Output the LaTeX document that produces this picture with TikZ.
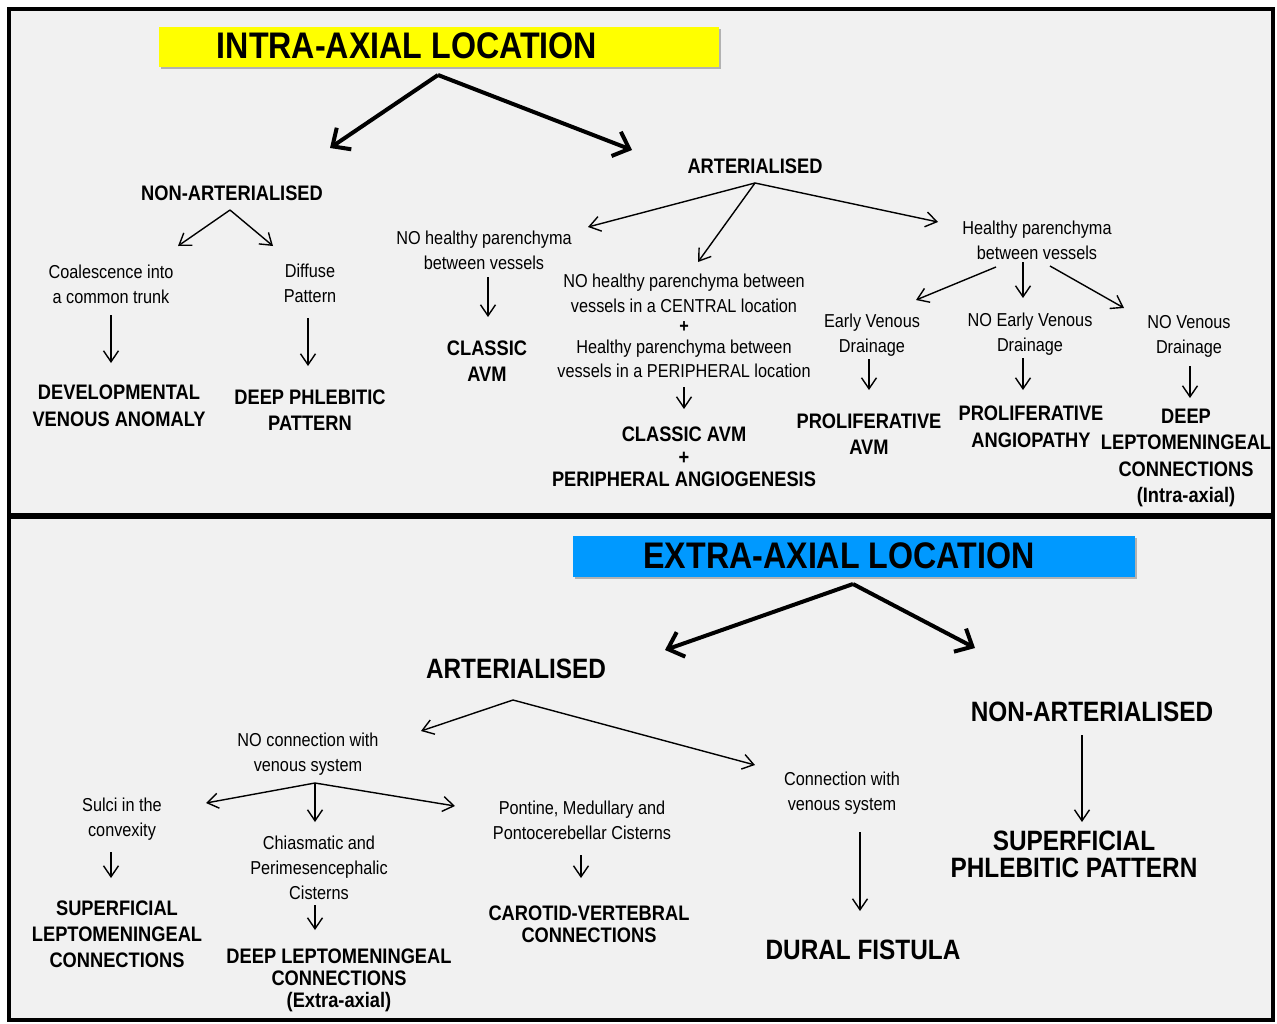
\documentclass[tikz,border=0pt]{standalone}
\usepackage{fontspec}
\setmainfont{Liberation Sans}[FakeStretch=0.87]
\usetikzlibrary{arrows.meta}
\definecolor{bggray}{RGB}{241,241,241}
\definecolor{ttlyellow}{RGB}{255,255,0}
\definecolor{ttlblue}{RGB}{0,153,255}
\begin{document}
\begin{tikzpicture}[x=1pt,y=-1pt,
  txt/.style={font=\fontsize{18.7}{25}\selectfont, align=center, inner sep=0pt},
  hd/.style={font=\bfseries\fontsize{21}{26.5}\selectfont, align=center, inner sep=0pt},
  hdL/.style={font=\bfseries\fontsize{28}{27}\selectfont, align=center, inner sep=0pt},
  ttl/.style={font=\bfseries\fontsize{37}{40}\selectfont, inner sep=0pt},
  thin/.style={line width=1.4pt, -{Straight Barb[length=11pt,width=15pt,line width=1.4pt]}},
  thick/.style={line width=4pt, -{Straight Barb[length=14pt,width=26pt,line width=4pt]}}]
\useasboundingbox (0,0) rectangle (1277,1023);
\fill[white] (0,0) rectangle (1277,1023);
\fill[bggray] (9,9) rectangle (1273,1020);
\draw[line width=4pt] (9,9) rectangle (1273,1020);
\draw[line width=6pt] (9,516) -- (1273,516);

% ---------- titles ----------
\fill[black!30] (161,29) rectangle (721,69);
\node[fill=ttlyellow, minimum width=560pt, minimum height=40pt, inner sep=0pt] (ybox) at (439,47) {};
\node[ttl] (ttl1) at (407,46) {INTRA-AXIAL LOCATION};
\fill[black!30] (575,538) rectangle (1137,579);
\node[fill=ttlblue, minimum width=562pt, minimum height=41pt, inner sep=0pt] (bbox) at (854,556.5) {};
\node[ttl] (ttl2) at (839,556) {EXTRA-AXIAL LOCATION};

% ---------- top panel nodes ----------
\node[hd] (na1) at (232,193) {NON-ARTERIALISED};
\node[hd] (ar1) at (755,166) {ARTERIALISED};
\node[txt] (coal) at (111,284) {Coalescence into\\a common trunk};
\node[txt] (diff) at (310,283) {Diffuse\\Pattern};
\node[hd] (dva) at (119,406) {DEVELOPMENTAL\\VENOUS ANOMALY};
\node[hd] (dpp) at (310,410) {DEEP PHLEBITIC\\PATTERN};
\node[txt] (nohp) at (484,250) {NO healthy parenchyma\\between vessels};
\node[hd] (cavm) at (487,361) {CLASSIC\\AVM};
\node[txt, font=\fontsize{18.7}{24.5}\selectfont] (mix) at (684,326)
  {NO healthy parenchyma between\\vessels in a CENTRAL location\\[-4pt]\textbf{+}\\[-4pt]Healthy parenchyma between\\vessels in a PERIPHERAL location};
\node[hd, font=\bfseries\fontsize{21}{22.5}\selectfont] (cpa) at (684,457) {CLASSIC AVM\\+\\PERIPHERAL ANGIOGENESIS};
\node[txt] (hp) at (1037,240) {Healthy parenchyma\\between vessels};
\node[txt] (ev) at (872,335) {Early Venous\\Drainage};
\node[txt] (nev) at (1030,334) {NO Early Venous\\Drainage};
\node[txt] (nv) at (1189,336) {NO Venous\\Drainage};
\node[hd] (pavm) at (869,434) {PROLIFERATIVE\\AVM};
\node[hd] (pang) at (1031,427) {PROLIFERATIVE\\ANGIOPATHY};
\node[hd] (dlc) at (1186,458) {DEEP\\LEPTOMENINGEAL\\CONNECTIONS\\(Intra-axial)};

% ---------- bottom panel nodes ----------
\node[hdL] (ar2) at (516,669) {ARTERIALISED};
\node[hdL] (na2) at (1092,712) {NON-ARTERIALISED};
\node[txt] (ncv) at (308,754) {NO connection with\\venous system};
\node[txt] (sulci) at (122,819) {Sulci in the\\convexity};
\node[txt] (chi) at (319,868) {Chiasmatic and\\Perimesencephalic\\Cisterns};
\node[txt] (pont) at (582,820) {Pontine, Medullary and\\Pontocerebellar Cisterns};
\node[txt] (cwv) at (842,793) {Connection with\\venous system};
\node[hd, font=\bfseries\fontsize{21}{26}\selectfont] (slc) at (117,934) {SUPERFICIAL\\LEPTOMENINGEAL\\CONNECTIONS};
\node[hd, font=\bfseries\fontsize{21}{22}\selectfont] (dlc2) at (339,980) {DEEP LEPTOMENINGEAL\\CONNECTIONS\\(Extra-axial)};
\node[hd, font=\bfseries\fontsize{21}{22}\selectfont] (cvc) at (589,924) {CAROTID-VERTEBRAL\\CONNECTIONS};
\node[hdL] (df) at (863,950) {DURAL FISTULA};
\node[hdL] (spp) at (1074,854) {SUPERFICIAL\\PHLEBITIC PATTERN};

% ---------- connector coordinates ----------
\coordinate (t1o) at (438,75);
\coordinate (t1l) at (330,148);
\coordinate (t1r) at (632,150);
\coordinate (t2o) at (853,584);
\coordinate (t2l) at (665,650);
\coordinate (t2r) at (975,648);

\coordinate (na1o) at (230,210);
\coordinate (na1l) at (178,246);
\coordinate (na1r) at (273,246);
\coordinate (coalo) at (111,315);
\coordinate (coale) at (111,363);
\coordinate (diffo) at (308,318);
\coordinate (diffe) at (308,366);

\coordinate (ar1o) at (755,183);
\coordinate (ar1l) at (588,227);
\coordinate (ar1m) at (698,262);
\coordinate (ar1r) at (938,222);
\coordinate (nohpo) at (488,277);
\coordinate (nohpe) at (488,317);
\coordinate (mixo) at (684,387);
\coordinate (mixe) at (684,409);

\coordinate (hpl) at (996,267);
\coordinate (hple) at (916,300);
\coordinate (hpm) at (1023,262);
\coordinate (hpme) at (1023,298);
\coordinate (hpr) at (1050,266);
\coordinate (hpre) at (1124,308);
\coordinate (evo) at (869,359);
\coordinate (eve) at (869,390);
\coordinate (nevo) at (1023,358);
\coordinate (neve) at (1023,390);
\coordinate (nvo) at (1190,366);
\coordinate (nve) at (1190,398);

\coordinate (ar2o) at (513,700);
\coordinate (ar2l) at (421,731);
\coordinate (ar2r) at (755,765);
\coordinate (ncvo) at (315,783);
\coordinate (ncvl) at (206,803);
\coordinate (ncvm) at (315,822);
\coordinate (ncvr) at (455,806);
\coordinate (sulo) at (111,852);
\coordinate (sule) at (111,878);
\coordinate (chio) at (315,905);
\coordinate (chie) at (315,930);
\coordinate (ponto) at (581,855);
\coordinate (ponte) at (581,878);
\coordinate (cwvo) at (860,832);
\coordinate (cwve) at (860,911);
\coordinate (na2o) at (1082,735);
\coordinate (na2e) at (1082,822);

% ---------- connectors ----------
\draw[thick] (t1o) -- (t1l);
\draw[thick] (t1o) -- (t1r);
\draw[thick] (t2o) -- (t2l);
\draw[thick] (t2o) -- (t2r);

\draw[thin] (na1o) -- (na1l);
\draw[thin] (na1o) -- (na1r);
\draw[thin] (coalo) -- (coale);
\draw[thin] (diffo) -- (diffe);
\draw[thin] (ar1o) -- (ar1l);
\draw[thin] (ar1o) -- (ar1m);
\draw[thin] (ar1o) -- (ar1r);
\draw[thin] (nohpo) -- (nohpe);
\draw[thin] (mixo) -- (mixe);
\draw[thin] (hpl) -- (hple);
\draw[thin] (hpm) -- (hpme);
\draw[thin] (hpr) -- (hpre);
\draw[thin] (evo) -- (eve);
\draw[thin] (nevo) -- (neve);
\draw[thin] (nvo) -- (nve);

\draw[thin] (ar2o) -- (ar2l);
\draw[thin] (ar2o) -- (ar2r);
\draw[thin] (ncvo) -- (ncvl);
\draw[thin] (ncvo) -- (ncvm);
\draw[thin] (ncvo) -- (ncvr);
\draw[thin] (sulo) -- (sule);
\draw[thin] (chio) -- (chie);
\draw[thin] (ponto) -- (ponte);
\draw[thin] (cwvo) -- (cwve);
\draw[thin] (na2o) -- (na2e);
\end{tikzpicture}
\end{document}
